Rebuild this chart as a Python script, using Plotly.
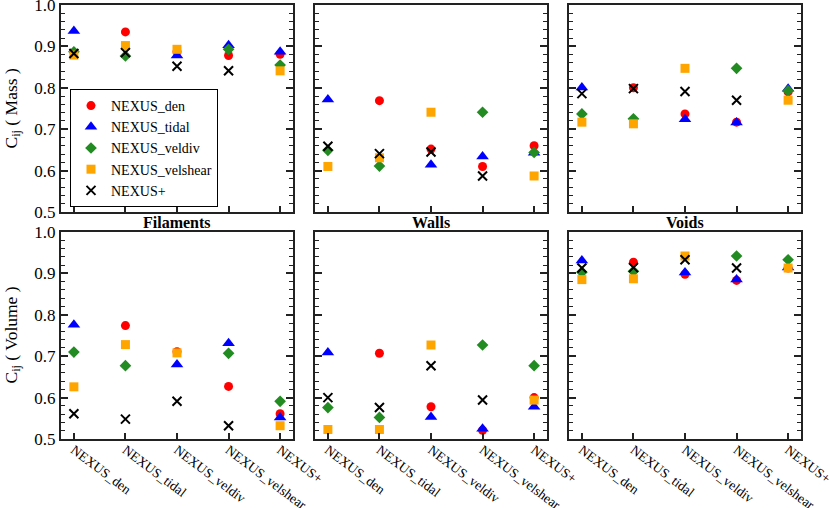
import plotly.graph_objects as go

CATEGORIES = ['NEXUS_den', 'NEXUS_tidal', 'NEXUS_veldiv', 'NEXUS_velshear', 'NEXUS+']
SERIES = ['NEXUS_den', 'NEXUS_tidal', 'NEXUS_veldiv', 'NEXUS_velshear', 'NEXUS+']
PANEL_TITLES = ['Filaments', 'Walls', 'Voids']

# rows = series (den, tidal, veldiv, velshear, NEXUS+), columns = categories
FIL_MASS = [
    [None, 0.935, 0.887, 0.878, 0.881],
    [0.937, None, 0.878, 0.903, 0.887],
    [0.887, 0.877, None, 0.893, 0.855],
    [0.879, 0.902, 0.893, None, 0.841],
    [0.883, 0.885, 0.852, 0.841, None],
]
WALL_MASS = [
    [None, 0.769, 0.652, 0.610, 0.660],
    [0.772, None, 0.614, 0.634, 0.643],
    [0.649, 0.611, None, 0.741, 0.644],
    [0.610, 0.631, 0.741, None, 0.587],
    [0.659, 0.641, 0.645, 0.587, None],
]
VOID_MASS = [
    [None, 0.800, 0.737, 0.717, 0.790],
    [0.801, None, 0.724, 0.716, 0.798],
    [0.737, 0.725, None, 0.847, 0.793],
    [0.717, 0.713, 0.847, None, 0.770],
    [0.786, 0.798, 0.791, 0.770, None],
]
FIL_VOL = [
    [None, 0.774, 0.711, 0.627, 0.561],
    [0.776, None, 0.680, 0.731, 0.552],
    [0.710, 0.677, None, 0.707, 0.591],
    [0.626, 0.728, 0.708, None, 0.532],
    [0.561, 0.548, 0.591, 0.532, None],
]
WALL_VOL = [
    [None, 0.707, 0.578, 0.521, 0.600],
    [0.709, None, 0.553, 0.525, 0.578],
    [0.576, 0.552, None, 0.727, 0.677],
    [0.523, 0.523, 0.727, None, 0.594],
    [0.600, 0.576, 0.677, 0.594, None],
]
VOID_VOL = [
    [None, 0.927, 0.898, 0.883, 0.913],
    [0.931, None, 0.902, 0.885, 0.914],
    [0.903, 0.905, None, 0.942, 0.933],
    [0.885, 0.887, 0.942, None, 0.913],
    [0.913, 0.914, 0.933, 0.913, None],
]

PANELS = [FIL_MASS, WALL_MASS, VOID_MASS, FIL_VOL, WALL_VOL, VOID_VOL]

W, H = 830, 508
FONT = 'Liberation Serif'

STYLES = [
    dict(symbol='circle', color='#ff0000', size=9),
    dict(symbol='triangle-up', color='#0000ff', size=11),
    dict(symbol='diamond', color='#228b22', size=9),
    dict(symbol='square', color='#ffa500', size=9),
    dict(symbol='x-thin', color='#000000', size=9, line=dict(width=2, color='#000000')),
]

# pixel boxes of panels (left, right) and (top, bottom)
COLS_PX = [(61, 293), (315, 547), (569, 801)]
ROWS_PX = [(5, 212), (232, 439)]

fig = go.Figure()

for p, data in enumerate(PANELS):
    r, c = divmod(p, 3)
    n = p + 1
    xa = 'x' if n == 1 else f'x{n}'
    ya = 'y' if n == 1 else f'y{n}'
    for s, name in enumerate(SERIES):
        st = STYLES[s]
        marker = dict(symbol=st['symbol'], color=st['color'], size=st['size'])
        marker['line'] = st.get('line', dict(width=0))
        fig.add_trace(go.Scatter(
            x=CATEGORIES, y=data[s], mode='markers', name=name,
            marker=marker, xaxis=xa, yaxis=ya,
            showlegend=(p == 0), cliponaxis=False,
        ))

    x0, x1 = COLS_PX[c]
    t, b = ROWS_PX[r]
    xkey = 'xaxis' if n == 1 else f'xaxis{n}'
    ykey = 'yaxis' if n == 1 else f'yaxis{n}'
    fig.layout[xkey] = dict(
        domain=[x0 / W, x1 / W], anchor=ya, type='category',
        automargin=False, ticklabeloverflow='allow',
        range=[-0.25, 4.25], showgrid=False, zeroline=False,
        showline=True, linecolor='#222222', linewidth=2, mirror=True,
        ticks='inside', ticklen=6, tickwidth=1.5, tickcolor='#222222',
        showticklabels=(r == 1), tickangle=37, ticklabelstandoff=-4,
        tickfont=dict(family=FONT, size=13.5, color='#000000'),
    )
    fig.layout[ykey] = dict(
        domain=[(H - b) / H, (H - t) / H], anchor=xa,
        automargin=False, ticklabeloverflow='allow',
        range=[0.5, 1.0], dtick=0.1, tickformat='.1f',
        showgrid=False, zeroline=False,
        showline=True, linecolor='#222222', linewidth=2, mirror='ticks',
        ticks='inside', ticklen=7, tickwidth=1.5, tickcolor='#222222',
        minor=dict(dtick=0.02, ticks='inside', ticklen=4, tickwidth=1.2, tickcolor='#222222'),
        showticklabels=(c == 0),
        tickfont=dict(family=FONT, size=17, color='#000000'),
    )

annotations = []
for c, title in enumerate(PANEL_TITLES):
    x0, x1 = COLS_PX[c]
    annotations.append(dict(
        text=f'<b>{title}</b>', x=(x0 + x1) / 2 / W, y=(H - 222) / H,
        xref='paper', yref='paper', showarrow=False,
        xanchor='center', yanchor='middle',
        font=dict(family=FONT, size=16, color='#000000'),
    ))
for r, label in enumerate(['C<sub>ij</sub> ( Mass )', 'C<sub>ij</sub> ( Volume )']):
    t, b = ROWS_PX[r]
    annotations.append(dict(
        text=label, x=12 / W, y=(H - (t + b) / 2) / H,
        xref='paper', yref='paper', showarrow=False, textangle=-90,
        xanchor='center', yanchor='middle',
        font=dict(family=FONT, size=17.5, color='#000000'),
    ))

fig.update_layout(
    width=W, height=H,
    margin=dict(l=0, r=0, t=0, b=0),
    paper_bgcolor='white', plot_bgcolor='white',
    annotations=annotations,
    legend=dict(
        x=70 / W, y=(H - 207) / H, xanchor='left', yanchor='bottom',
        bgcolor='white', bordercolor='#000000', borderwidth=1,
        font=dict(family=FONT, size=14, color='#000000'),
        tracegroupgap=0, itemwidth=30,
    ),
)

# page body has a default 8px margin; drop it so the figure sits at the window corner
fig.write_html('out.html', config={'displayModeBar': False},
               post_script="document.body.style.margin = '0';")
